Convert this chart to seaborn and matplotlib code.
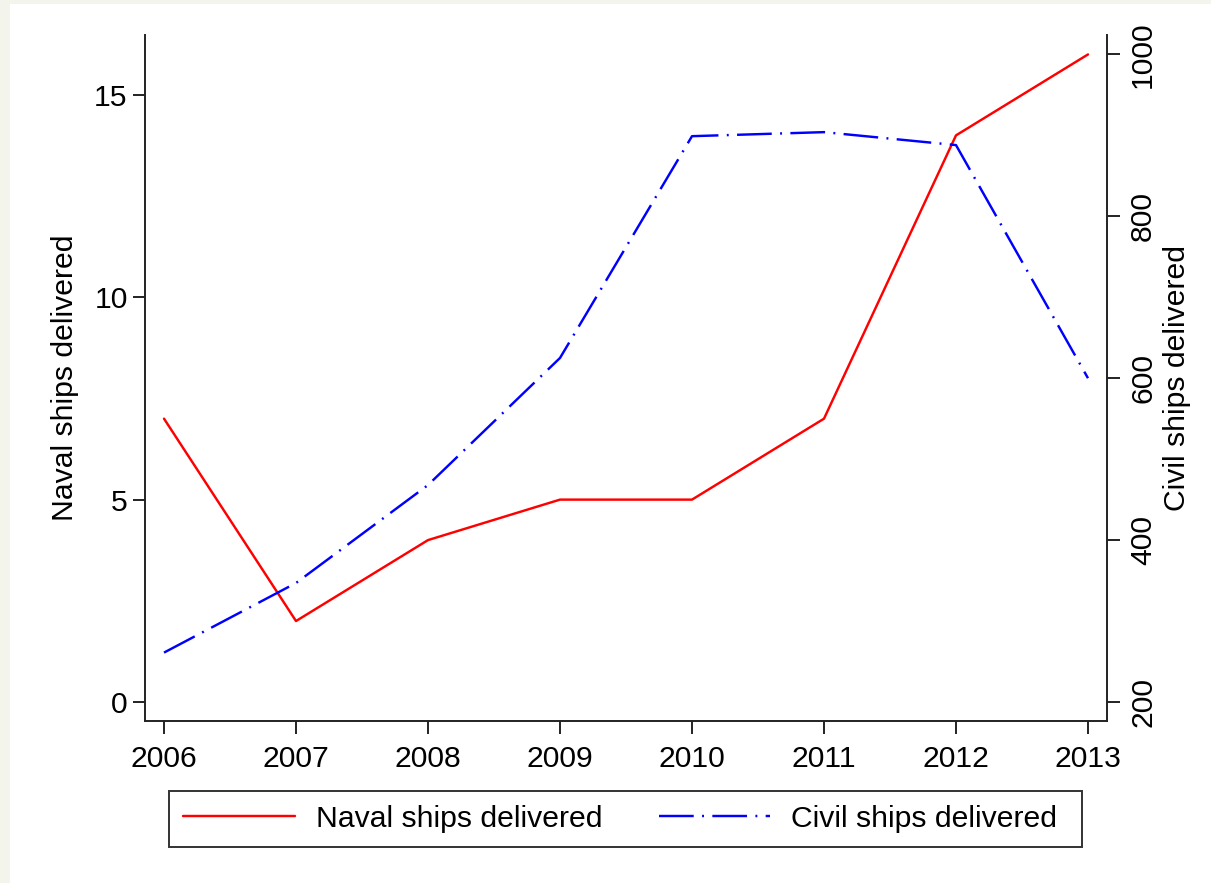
import matplotlib
matplotlib.use("Agg")
import matplotlib.pyplot as plt
import seaborn as sns
import pandas as pd
from matplotlib.patches import Rectangle
from matplotlib.lines import Line2D

years = [2006, 2007, 2008, 2009, 2010, 2011, 2012, 2013]
naval = [7, 2, 4, 5, 5, 7, 14, 16]
civil = [261, 347, 468, 625, 899, 904, 888, 600]
left_ticks = [0, 5, 10, 15]
right_ticks = [200, 400, 600, 800, 1000]
naval_label = "Naval ships delivered"
civil_label = "Civil ships delivered"

df = pd.DataFrame({"year": years, "naval": naval, "civil": civil})

sns.set_theme(style="white")
plt.rcParams["font.family"] = ["Liberation Sans", "DejaVu Sans"]
plt.rcParams["lines.scale_dashes"] = False
plt.rcParams["text.color"] = "black"
plt.rcParams["axes.labelcolor"] = "black"

FS = 21.7
W, H = 1211, 883
fig = plt.figure(figsize=(W / 100, H / 100), dpi=100)
fig.patch.set_facecolor("#f3f4ec")
fig.patches.append(Rectangle((10 / W, 0), 1 - 10 / W, 1 - 4 / H, transform=fig.transFigure,
                             facecolor="white", edgecolor="none", zorder=-10))

ax = fig.add_axes([145 / W, 1 - 721 / H, (1107 - 145) / W, (721 - 35) / H])
ax.set_facecolor("white")
ax2 = ax.twinx()

sns.lineplot(data=df, x="year", y="naval", ax=ax, color="#ff0000", lw=1.75, legend=False)
sns.lineplot(data=df, x="year", y="civil", ax=ax2, color="#0000ff", lw=1.75, legend=False)
dash_pat = (25, 6, 1.4, 6)
ax2.lines[0].set_dashes(dash_pat)

ax.set_xlim(2005.856, 2013.144)
ylo, yhi = -0.47, 16.48
ax.set_ylim(ylo, yhi)
ax2.set_ylim(200 + 50 * ylo, 200 + 50 * yhi)

ax.set_xticks(years)
ax.set_xticklabels([str(y) for y in years])
ax.set_yticks(left_ticks)
ax2.set_yticks(right_ticks)

spine_c = "#222222"
for a in (ax, ax2):
    for s in a.spines.values():
        s.set_color(spine_c)
        s.set_linewidth(1.4)
    a.spines["top"].set_visible(False)
ax.spines["right"].set_visible(False)
ax2.spines["left"].set_visible(False)
ax2.spines["bottom"].set_visible(False)
ax2.spines["right"].set_visible(True)

ax.tick_params(axis="x", direction="out", length=9, width=1.4, color=spine_c,
               labelsize=FS, labelcolor="black", pad=8.5, bottom=True)
ax.tick_params(axis="y", direction="out", length=9, width=1.4, color=spine_c,
               labelsize=FS, labelcolor="black", pad=3.5, left=True)
ax2.tick_params(axis="y", direction="out", length=9, width=1.4, color=spine_c,
                labelsize=FS, labelcolor="black", pad=7, right=True, labelrotation=90)
for lab in ax2.get_yticklabels():
    lab.set_va("center")

ax.set_xlabel("")
ax.set_ylabel(naval_label, fontsize=FS, color="black", labelpad=11)
ax2.set_ylabel(civil_label, fontsize=FS, color="black", labelpad=4)

# legend
handles = [Line2D([], [], color="#ff0000", lw=1.75),
           Line2D([], [], color="#0000ff", lw=1.75, dashes=dash_pat)]
fig.patches.append(Rectangle((169 / W, 1 - 847 / H), (1082 - 169) / W, (847 - 791) / H,
                             transform=fig.transFigure, facecolor="white",
                             edgecolor="#333333", lw=1.4, zorder=1))
leg = fig.legend(handles, [naval_label, civil_label], ncol=2, frameon=False,
                 loc="center left", bbox_to_anchor=(183 / W, 1 - 819 / H),
                 fontsize=FS, handlelength=3.7, handletextpad=0.7, columnspacing=1.88,
                 borderaxespad=0, borderpad=0)

fig.savefig("out.png", dpi=100, facecolor=fig.get_facecolor())
